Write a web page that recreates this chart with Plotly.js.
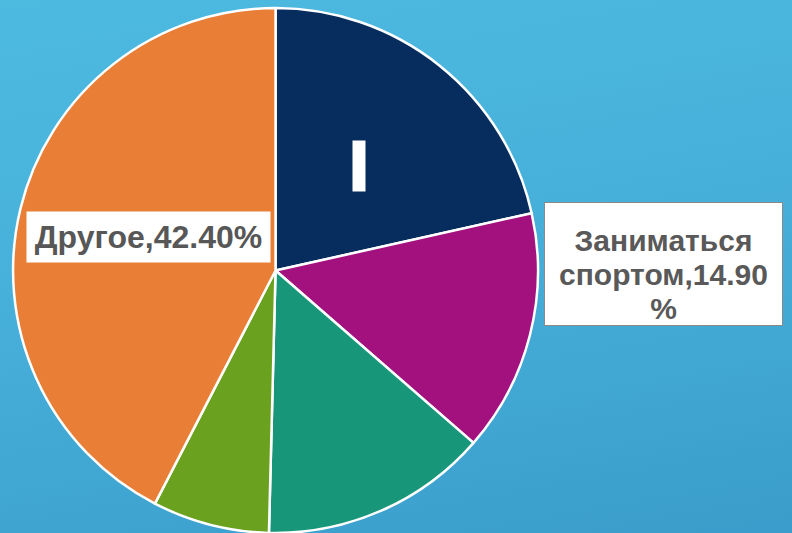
<!DOCTYPE html>
<html>
<head>
<meta charset="utf-8">
<script src="https://cdn.plot.ly/plotly-3.0.1.min.js"></script>
<style>
  html, body { margin: 0; padding: 0; }
  body { width: 792px; height: 533px; overflow: hidden;
         background: linear-gradient(170deg, #4dbae0 0%, #47b0da 45%, #3a9dcb 100%); }
  #chart { width: 792px; height: 533px; }
</style>
</head>
<body>
<div id="chart"></div>
<script>
const categories = ["Категория 1", "Заниматься спортом", "Категория 3", "Категория 4", "Другое"];
const values = [21.5, 14.9, 14.0, 7.2, 42.4];
const colors = ["#062d5e", "#a3117f", "#17967a", "#6aa220", "#e97e36"];
const labelTexts = ["", "Заниматься<br>спортом,14.90<br>%", "", "", "Другое,42.40%"];

const trace = {
  type: "pie",
  labels: categories,
  values: values,
  sort: false,
  direction: "clockwise",
  rotation: 0,
  textinfo: "none",
  hoverinfo: "label+percent",
  marker: { colors: colors, line: { color: "#ffffff", width: 2.5 } },
  domain: { x: [0.0165, 0.6793], y: [0.0, 0.985] },
  showlegend: false
};

const layout = {
  width: 792, height: 533,
  margin: { l: 0, r: 0, t: 0, b: 0 },
  paper_bgcolor: "rgba(0,0,0,0)",
  plot_bgcolor: "rgba(0,0,0,0)",
  showlegend: false,
  annotations: [
    {
      xref: "paper", yref: "paper", x: 0.1875, y: 0.5553,
      xanchor: "center", yanchor: "middle",
      text: "<b>" + labelTexts[4] + "</b>",
      showarrow: false,
      font: { family: "Liberation Sans, Arial, sans-serif", size: 32, color: "#575757" },
      bgcolor: "#ffffff", width: 243, height: 50, borderpad: 0
    },
    {
      xref: "paper", yref: "paper", x: 0.8378, y: 0.5047,
      xanchor: "center", yanchor: "middle",
      text: "<b><span style=\"font-size:30px\">" + labelTexts[1].split("<br>").join("</span><br><span style=\"font-size:30px\">") + "</span></b>",
      showarrow: false, align: "center", valign: "bottom",
      font: { family: "Liberation Sans, Arial, sans-serif", size: 26, color: "#595959" },
      bgcolor: "#ffffff", bordercolor: "#8a8a8a", borderwidth: 1,
      width: 237, height: 122, borderpad: 0, xshift: 0
    },
    {
      xref: "paper", yref: "paper", x: 0.4533, y: 0.6886,
      xanchor: "center", yanchor: "middle",
      text: " ",
      showarrow: false,
      font: { size: 10, color: "#ffffff" },
      bgcolor: "#ffffff", width: 12, height: 50, borderpad: 0
    }
  ]
};

Plotly.newPlot("chart", [trace], layout, { displayModeBar: false, staticPlot: true });
</script>
</body>
</html>
